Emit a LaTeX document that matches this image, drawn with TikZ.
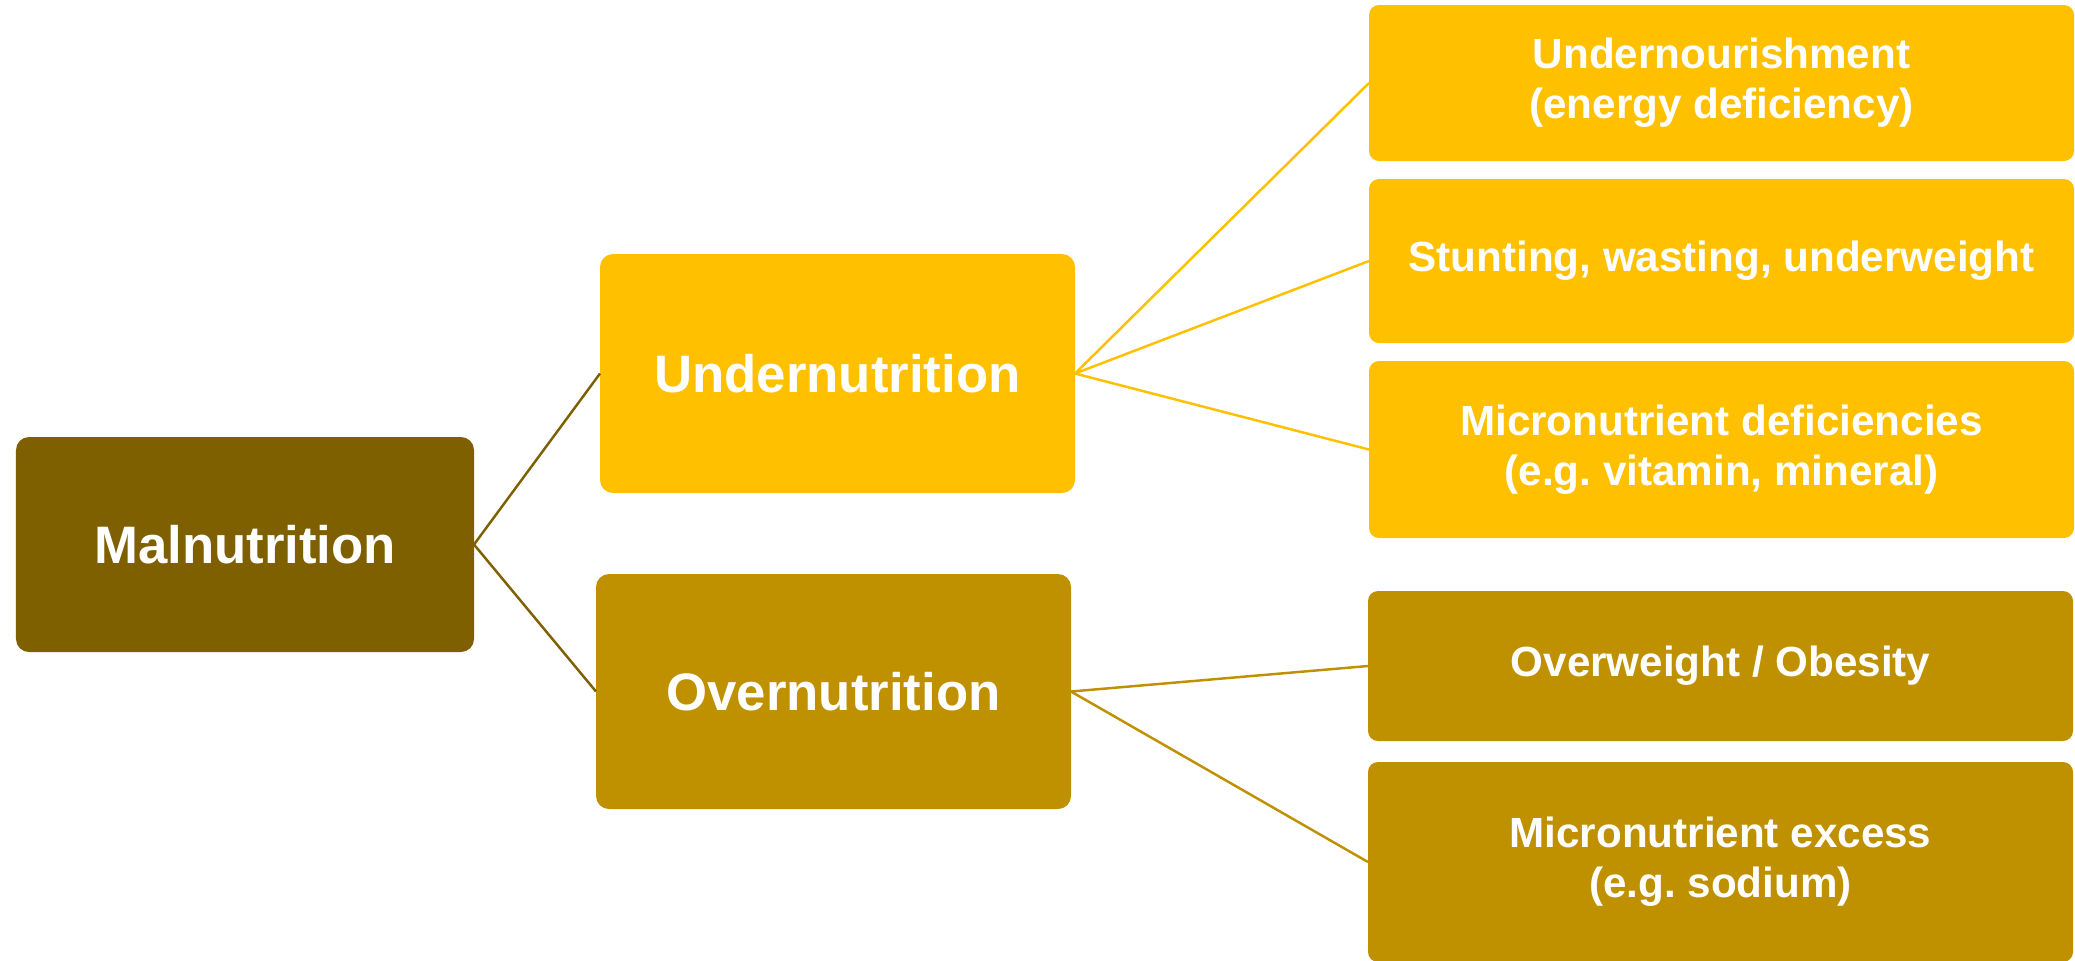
\documentclass[tikz,border=0pt]{standalone}
\usepackage{fontspec}
\setmainfont{Liberation Sans}
\definecolor{maldark}{HTML}{7F6000}
\definecolor{undergold}{HTML}{FFC000}
\definecolor{overgold}{HTML}{BF9000}
\begin{document}
\begin{tikzpicture}[box/.style = {rectangle,rounded corners=1.3mm,text=white,align=center,inner sep=0mm,outer sep=0mm},
  big/.style = {box,font=\fontsize{15}{18}\selectfont\bfseries,minimum width=4.75cm},
  small/.style = {box,font=\fontsize{12}{14.2}\selectfont\bfseries,minimum width=7.05cm,rounded corners=1mm},
  link/.style = {line width=0.7pt}]
\useasboundingbox (0,0) rectangle (20.75,-9.6);
\node[big,fill=maldark,minimum width=4.58cm,minimum height=2.15cm] (mal) at (2.45,-5.445) {Malnutrition};
\node[big,fill=undergold,minimum height=2.39cm] (under) at (8.375,-3.735) {Undernutrition};
\node[big,fill=overgold,minimum height=2.35cm] (over) at (8.335,-6.915) {Overnutrition};
\draw[link,maldark] (under.west) -- (mal.east) -- (over.west);
\foreach \n/\y/\h/\t in {u1/-0.83/1.56/{Undernourishment\\(energy deficiency)},
                         u2/-2.61/1.64/{Stunting, wasting, underweight},
                         u3/-4.495/1.77/{Micronutrient deficiencies\\(e.g.\ vitamin, mineral)}}
{
    \node[small,fill=undergold,minimum height=\h cm] (\n) at (17.215,\y) {\t};
    \draw[link,undergold] (under.east) -- (\n.west);
}
\foreach \n/\y/\h/\t in {o1/-6.66/1.50/{Overweight / Obesity},
                         o2/-8.62/2.00/{Micronutrient excess\\(e.g.\ sodium)}}
{
    \node[small,fill=overgold,minimum height=\h cm] (\n) at (17.205,\y) {\t};
    \draw[link,overgold] (over.east) -- (\n.west);
}
\end{tikzpicture}
\end{document}
